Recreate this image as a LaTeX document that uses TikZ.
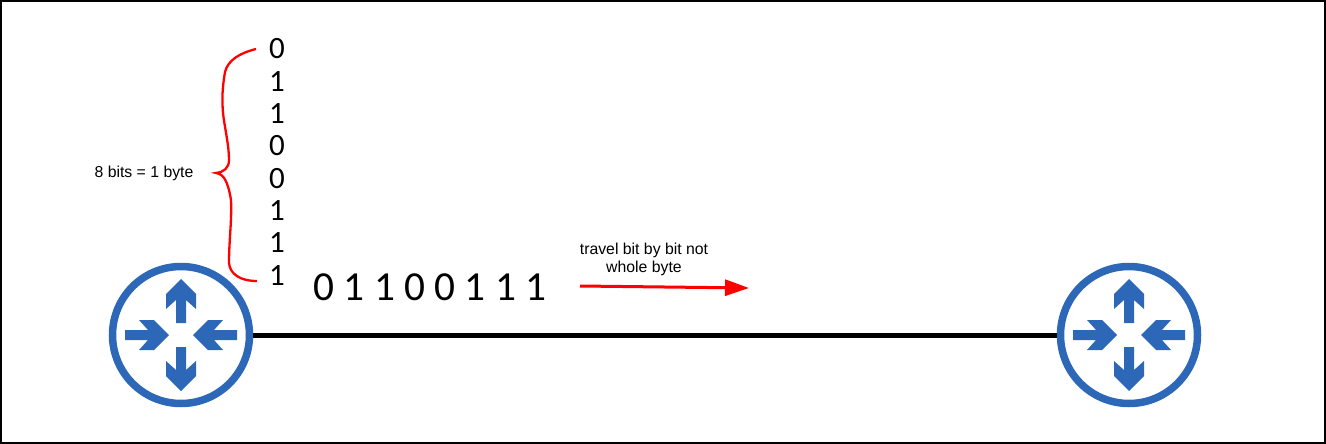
\documentclass[tikz,border=0pt]{standalone}
\usepackage{fontspec}
\setmainfont{Carlito}
\newfontfamily\labelfont{Liberation Sans}
\usetikzlibrary{arrows.meta}
\definecolor{routerblue}{HTML}{2D68B8}
\tikzset{
  routernode/.style={circle,draw=routerblue,line width=7.5pt,minimum size=137pt,inner sep=0pt},
  bitnode/.style={font=\fontsize{31}{31}\selectfont,inner sep=0pt},
  wordnode/.style={font=\fontsize{41.3}{41.3}\selectfont,inner sep=0pt},
  notenode/.style={font=\labelfont\fontsize{15.8}{18}\selectfont,inner sep=0pt,align=center},
  routerarrow/.pic={\fill[routerblue] (-5,0)--(-5,-23)--(-15,-14)--(-15,-29)--(0,-44)--(15,-29)--(15,-14)--(5,-23)--(5,0)--cycle;}
}
\begin{document}
\begin{tikzpicture}[x=1pt,y=-1pt]
\useasboundingbox (0,0) rectangle (1326,444);
\draw[line width=2pt] (1,1) rectangle (1324.5,442.5);
% routers
\node[routernode] (left) at (181,335) {};
\node[routernode] (right) at (1129,335) {};
\foreach \r in {left,right}
  \foreach \a/\d in {0/-12,180/-12,90/56,270/56}
    \path (\r.center) pic[rotate=\a,shift={(0,\d)}] {routerarrow};
\draw[line width=5pt] (left) -- (right);
% bits
\foreach \b [count=\i from 0] in {0,1,1,0,0,1,1,1}
  \node[bitnode] (col\i) at (277,49+32.3*\i) {\b};
\node[wordnode] (word) at (430,287) {0 1 1 0 0 1 1 1};
% brace
\draw[red,line width=2.3pt] (256,49) .. controls (240,53) and (228,60) .. (225,72)
  .. controls (222,90) and (222,100) .. (223,113) .. controls (225,130) and (229,145) .. (229,160)
  .. controls (229,168) and (224,172) .. (216,173) .. controls (224,174) and (228,182) .. (231,200)
  .. controls (232,220) and (229,240) .. (229,263) .. controls (230,274) and (240,281) .. (257,281);
\node[notenode] (bytelabel) at (144,173.5) {8 bits = 1 byte};
% travel arrow
\node[notenode] (travel) at (644,259) {travel bit by bit not\\whole byte};
\coordinate (from) at (580,286);
\coordinate (to) at (749,288);
\draw[red,line width=3pt,-{Triangle[length=24pt,width=16pt]}] (from) -- (to);
\end{tikzpicture}
\end{document}
